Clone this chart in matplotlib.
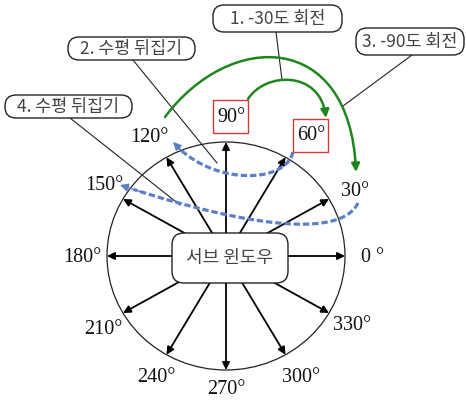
import numpy as np
import matplotlib
matplotlib.use("Agg")
import matplotlib.pyplot as plt
from matplotlib.patches import FancyBboxPatch, Rectangle, FancyArrowPatch, Ellipse
from matplotlib.path import Path

# ---- data ----
angles = [0, 30, 60, 90, 120, 150, 180, 210, 240, 270, 300, 330]
angle_labels = ["0 °", "30°", "60°", "90°", "120°", "150°", "180°", "210°", "240°", "270°", "300°", "330°"]
boxed_angles = [60, 90]
center_label = "서브 윈도우"
step_labels = ["1. -30도 회전", "2. 수평 뒤집기", "3. -90도 회전", "4. 수평 뒤집기"]

# ---- layout (pixel coordinates) ----
W, H = 466, 403
fig = plt.figure(figsize=(W / 100, H / 100), dpi=100)
ax = fig.add_axes([0, 0, 1, 1])
ax.set_xlim(0, W)
ax.set_ylim(H, 0)
ax.axis("off")

cx, cy, rx, ry = 226, 256, 119, 114
KR = ["Noto Sans CJK KR", "DejaVu Sans"]
SERIF = ["Liberation Serif", "DejaVu Serif"]

# circle
ax.add_patch(Ellipse((cx, cy), 2 * rx, 2 * ry, fill=False, ec="#222222", lw=0.9, zorder=2))

# radial arrows
for a in angles:
    t = np.deg2rad(a)
    ex, ey = cx + rx * np.cos(t), cy - ry * np.sin(t)
    ax.add_patch(FancyArrowPatch((cx, cy), (ex, ey), arrowstyle="-|>", mutation_scale=11,
                                 lw=1.3, color="black", shrinkA=0, shrinkB=0, zorder=3))

# angle labels
label_pos = {0: (373, 257), 30: (355, 191), 60: (311, 136), 90: (231, 118), 120: (149, 137),
             150: (104, 185), 180: (82, 257), 210: (103, 329), 240: (156, 378), 270: (226, 390),
             300: (301, 377), 330: (352, 326)}
for a, lab in zip(angles, angle_labels):
    x, y = label_pos[a]
    ax.text(x, y, lab, family=SERIF, fontsize=14.5, ha="center", va="center", color="#111111", zorder=6)

# red boxes for 60, 90
red_boxes = {90: (213, 100, 35, 33), 60: (293, 119, 35, 33)}
for a in boxed_angles:
    x, y, w, h = red_boxes[a]
    ax.add_patch(Rectangle((x, y), w, h, fill=True, fc="white", ec="#d03a3a", lw=1.0, zorder=5))

# center box
ax.add_patch(FancyBboxPatch((172, 233), 116, 50, boxstyle="round,pad=0,rounding_size=12",
                            fc="white", ec="#222222", lw=1.0, zorder=7))
ax.text(230, 258, center_label, family=KR, fontsize=13, ha="center", va="center",
        color="#444444", fontweight="light", zorder=8)

# callout boxes
boxes = [(213, 5, 129, 27), (68, 37, 127, 23), (356, 28, 108, 27), (5, 95, 127, 23)]
for (x, y, w, h), lab in zip(boxes, step_labels):
    ax.add_patch(FancyBboxPatch((x, y), w, h, boxstyle="round,pad=0,rounding_size=11",
                                fc="white", ec="#222222", lw=1.0, zorder=7))
    ax.text(x + w / 2, y + h / 2 + 0.5, lab, family=KR, fontsize=12.5, ha="center", va="center",
            color="#444444", fontweight="light", zorder=8)

# leader lines
leaders = [((276, 32), (282, 80)), ((133, 60), (217, 163)), ((412, 55), (343, 106)), ((70, 118), (180, 205))]
for (x0, y0), (x1, y1) in leaders:
    ax.plot([x0, x1], [y0, y1], color="#222222", lw=0.8, zorder=4)


def bez(p0, p1, p2, p3, n=80):
    t = np.linspace(0, 1, n)[:, None]
    p0, p1, p2, p3 = map(np.array, (p0, p1, p2, p3))
    return (1 - t) ** 3 * p0 + 3 * (1 - t) ** 2 * t * p1 + 3 * (1 - t) * t ** 2 * p2 + t ** 3 * p3


GREEN = "#1d871d"
BLUE = "#5b7fc8"

# green rotation arrows
for ctrl in [((248, 99), (265, 72), (320, 70), (326, 118)),
             ((165, 117), (230, 30), (350, 30), (356, 172))]:
    verts = [ctrl[0], ctrl[1], ctrl[2], ctrl[3]]
    path = Path(verts, [Path.MOVETO, Path.CURVE4, Path.CURVE4, Path.CURVE4])
    ax.add_patch(FancyArrowPatch(path=path, arrowstyle="-|>", mutation_scale=12, lw=1.8,
                                 color=GREEN, zorder=6))

# blue dashed flip arrows
for ctrl in [((293, 152), (285, 185), (210, 185), (173, 142)),
             ((358, 203), (340, 240), (240, 225), (120, 185))]:
    pts = bez(*ctrl)
    ax.plot(pts[:-3, 0], pts[:-3, 1], color=BLUE, lw=2.3, dashes=(2.0, 0.9), zorder=5,
            solid_capstyle="butt", dash_capstyle="butt")
    ax.add_patch(FancyArrowPatch(tuple(pts[-6]), tuple(pts[-1]), arrowstyle="-|>",
                                 mutation_scale=12, lw=1.0, color=BLUE, shrinkA=0, shrinkB=0, zorder=5))

fig.savefig("out.png", dpi=100)
